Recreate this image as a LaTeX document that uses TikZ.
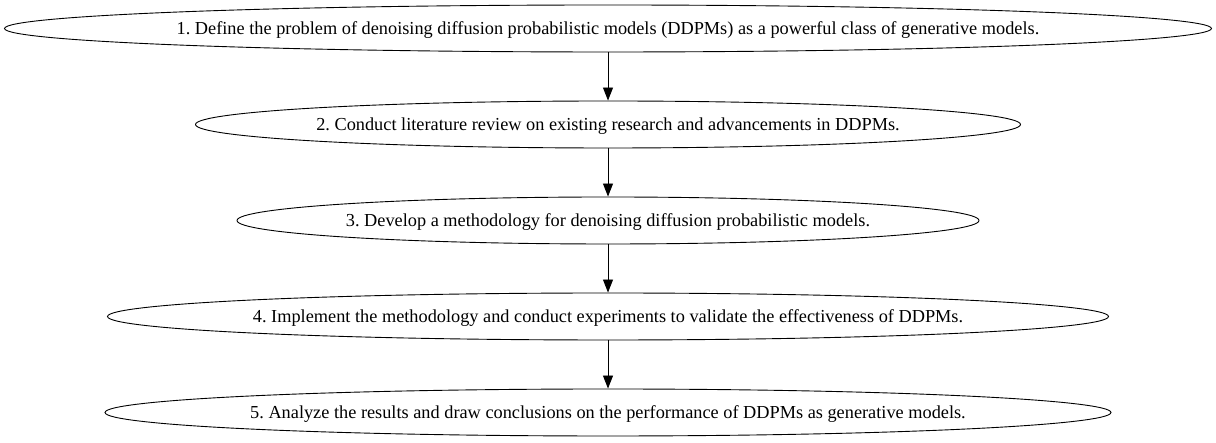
\documentclass[tikz,border=0pt]{standalone}
\usepackage{fontspec}
\setmainfont{Liberation Serif}
\usetikzlibrary{shapes.geometric,arrows.meta}
\frenchspacing
\newcommand{\stagetext}[1]{\makebox[0pt]{#1}}
\begin{document}
\begin{tikzpicture}
   \tikzstyle{stage}=[ellipse,draw,line width=0.9pt,inner sep=0pt,minimum height=47pt,text height=13pt,text depth=0pt,font=\fontsize{18.3}{21}\selectfont]
   \tikzstyle{arrow}=[line width=0.9pt,draw,-{Triangle[length=13pt,width=10pt]}]
   \useasboundingbox (0,0) rectangle (1216pt,443pt);
   \node (define) [stage,minimum width=1207pt] at (608pt,414.5pt) {\stagetext{1. Define the problem of denoising diffusion probabilistic models (DDPMs) as a powerful class of generative models.}} ;
   \node (review) [stage,minimum width=825pt,below of=define,node distance=96pt] {\stagetext{2. Conduct literature review on existing research and advancements in DDPMs.}} ;
   \node (method) [stage,minimum width=742pt,below of=review,node distance=96pt] {\stagetext{3. Develop a methodology for denoising diffusion probabilistic models.}} ;
   \node (implement) [stage,minimum width=1001pt,below of=method,node distance=96pt] {\stagetext{4. Implement the methodology and conduct experiments to validate the effectiveness of DDPMs.}} ;
   \node (analyze) [stage,minimum width=1006pt,below of=implement,node distance=96pt] {\stagetext{5. Analyze the results and draw conclusions on the performance of DDPMs as generative models.}} ;
   \path [arrow] (define) -- (review) ;
   \path [arrow] (review) -- (method) ;
   \path [arrow] (method) -- (implement) ;
   \path [arrow] (implement) -- (analyze) ;
\end{tikzpicture}
\end{document}
